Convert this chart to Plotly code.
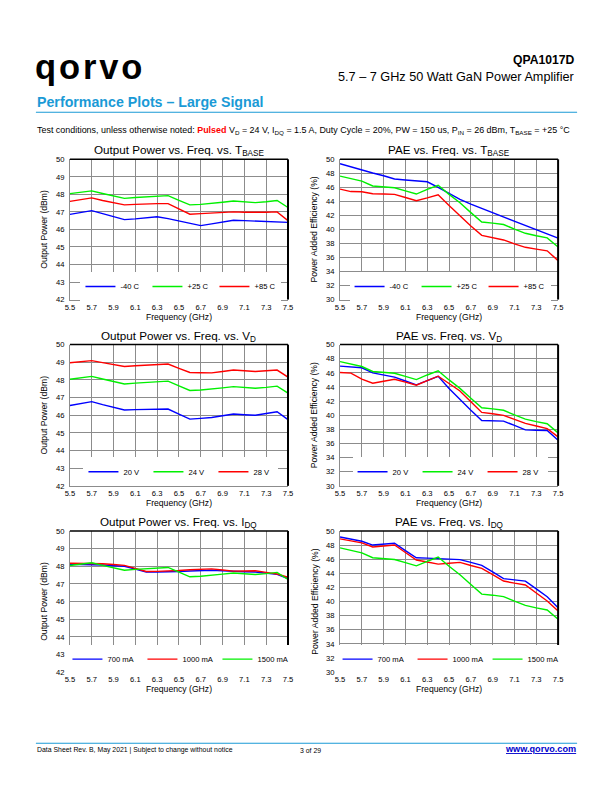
import plotly.graph_objects as go

W, H = 612, 792

FREQ = [5.5, 5.6, 5.7, 5.8, 5.9, 6.0, 6.1, 6.2, 6.3, 6.4, 6.5,
        6.6, 6.7, 6.8, 6.9, 7.0, 7.1, 7.2, 7.3, 7.4, 7.5]
X_TICKS = [5.5, 5.7, 5.9, 6.1, 6.3, 6.5, 6.7, 6.9, 7.1, 7.3, 7.5]
POUT_TICKS = [42, 43, 44, 45, 46, 47, 48, 49, 50]
PAE_TICKS = [30, 32, 34, 36, 38, 40, 42, 44, 46, 48, 50]

# Output power vs T_BASE (dBm)
pout_m40 = [46.86, 46.96, 47.07, 46.9, 46.72, 46.56, 46.6, 46.66, 46.72, 46.62, 46.48,
            46.34, 46.22, 46.32, 46.42, 46.52, 46.5, 46.48, 46.46, 46.44, 46.4]
pout_p25 = [48.04, 48.12, 48.2, 48.05, 47.9, 47.77, 47.82, 47.86, 47.9, 47.93, 47.66,
            47.4, 47.43, 47.47, 47.55, 47.62, 47.58, 47.53, 47.58, 47.65, 47.25]
pout_p85 = [47.6, 47.7, 47.8, 47.65, 47.52, 47.4, 47.43, 47.46, 47.47, 47.47, 47.17,
            46.87, 46.9, 46.93, 46.97, 47.0, 46.98, 46.96, 46.98, 47.0, 46.5]

# PAE vs T_BASE (%)
pae_m40 = [49.38, 48.9, 48.45, 48.05, 47.65, 47.2, 47.05, 46.95, 46.8, 46.0, 45.15,
           44.3, 43.6, 43.0, 42.4, 41.8, 41.2, 40.6, 40.0, 39.4, 38.75]
pae_p25 = [47.6, 47.25, 46.9, 46.2, 46.1, 45.95, 45.5, 45.05, 45.7, 46.3, 45.0,
           43.8, 42.4, 41.05, 40.9, 40.7, 40.05, 39.45, 39.1, 38.8, 37.5]
pae_p85 = [45.75, 45.4, 45.38, 45.1, 45.05, 45.0, 44.55, 44.1, 44.5, 44.95, 43.4,
           41.9, 40.5, 39.15, 38.85, 38.5, 37.95, 37.45, 37.2, 36.95, 35.55]

# Output power vs V_D (dBm)
pout_20v = [46.55, 46.66, 46.77, 46.6, 46.45, 46.3, 46.32, 46.34, 46.35, 46.35, 46.06,
            45.78, 45.82, 45.87, 45.97, 46.07, 46.03, 46.0, 46.1, 46.2, 45.75]
pout_24v = [48.04, 48.12, 48.2, 48.05, 47.9, 47.77, 47.82, 47.86, 47.9, 47.93, 47.66,
            47.4, 47.43, 47.47, 47.55, 47.62, 47.58, 47.53, 47.58, 47.65, 47.25]
pout_28v = [48.97, 49.05, 49.09, 48.98, 48.87, 48.76, 48.8, 48.84, 48.87, 48.9, 48.66,
            48.42, 48.41, 48.4, 48.48, 48.56, 48.52, 48.48, 48.52, 48.56, 48.16]

# PAE vs V_D (%)
pae_20v = [46.96, 46.85, 46.72, 46.0, 45.7, 45.4, 44.85, 44.3, 44.9, 45.5, 43.8,
           42.2, 40.7, 39.26, 39.22, 39.17, 38.55, 37.93, 37.88, 37.84, 36.46]
pae_24v = [47.6, 47.25, 46.9, 46.2, 46.1, 45.95, 45.5, 45.05, 45.7, 46.3, 45.0,
           43.8, 42.4, 41.05, 40.9, 40.7, 40.05, 39.45, 39.1, 38.8, 37.5]
pae_28v = [46.06, 45.96, 45.1, 44.54, 44.82, 45.1, 44.68, 44.25, 44.9, 45.53, 44.5,
           43.44, 41.9, 40.4, 40.2, 39.98, 39.4, 38.84, 38.47, 38.1, 36.93]

# Output power vs I_DQ (dBm)
pout_700 = [48.11, 48.11, 48.11, 48.07, 48.03, 48.0, 47.84, 47.67, 47.67, 47.67, 47.7,
            47.73, 47.75, 47.77, 47.74, 47.7, 47.69, 47.67, 47.61, 47.54, 47.3]
pout_1000 = [48.17, 48.17, 48.18, 48.14, 48.1, 48.05, 47.88, 47.7, 47.71, 47.72, 47.76,
             47.8, 47.83, 47.85, 47.79, 47.72, 47.73, 47.74, 47.65, 47.56, 47.37]
pout_1500 = [48.04, 48.12, 48.2, 48.05, 47.9, 47.77, 47.82, 47.86, 47.9, 47.93, 47.66,
             47.4, 47.43, 47.47, 47.55, 47.62, 47.58, 47.53, 47.58, 47.65, 47.25]

# PAE vs I_DQ (%)
pae_700 = [49.15, 48.85, 48.53, 48.0, 48.1, 48.25, 47.2, 46.2, 46.15, 46.08, 46.0,
           45.93, 45.55, 45.13, 44.2, 43.24, 43.07, 42.9, 41.8, 40.68, 39.13]
pae_1000 = [48.87, 48.6, 48.3, 47.73, 47.85, 48.0, 46.95, 45.88, 45.6, 45.3, 45.42,
            45.55, 45.1, 44.7, 43.8, 42.9, 42.6, 42.34, 41.2, 40.07, 38.65]
pae_1500 = [47.6, 47.25, 46.9, 46.2, 46.1, 45.95, 45.5, 45.05, 45.7, 46.3, 45.0,
            43.8, 42.4, 41.05, 40.9, 40.7, 40.05, 39.45, 39.1, 38.8, 37.5]

BLUE, GREEN, RED = "#0000ff", "#00f000", "#ff0000"
COL_TV = [BLUE, GREEN, RED]
COL_IDQ = [BLUE, RED, GREEN]
FONT = "Liberation Sans, Arial, sans-serif"

# page-pixel -> paper mapping (compensates the small border the viewer adds)
PAD = 5.2
SX = W / (W + 2 * PAD)
SY = H / (H + 2 * PAD)
FS = 1.0 / ((SX + SY) / 2)
DY = 1.2


def px(x):
    return (x / SX - PAD) / W


def py(y):
    return 1 - ((y + DY) / SY - PAD) / H


def fs(s):
    return round(s * FS, 2)


# panel boxes in page pixels: (left, right, top, bottom)
panels = [
    dict(box=(70, 288, 159, 299), kind="pout", title="Output Power vs. Freq. vs. T<sub>BASE</sub>",
         series=[pout_m40, pout_p25, pout_p85], names=["-40 C", "+25 C", "+85 C"],
         cols=COL_TV, leg=(181, 286), ew=22),
    dict(box=(340, 558, 159, 299), kind="pae", title="PAE vs. Freq. vs. T<sub>BASE</sub>",
         series=[pae_m40, pae_p25, pae_p85], names=["-40 C", "+25 C", "+85 C"],
         cols=COL_TV, leg=(450, 286), ew=22),
    dict(box=(70, 288, 344, 485), kind="pout", title="Output Power vs. Freq. vs. V<sub>D</sub>",
         series=[pout_20v, pout_24v, pout_28v], names=["20 V", "24 V", "28 V"],
         cols=COL_TV, leg=(181, 471), ew=20),
    dict(box=(340, 558, 344, 485), kind="pae", title="PAE vs. Freq. vs. V<sub>D</sub>",
         series=[pae_20v, pae_24v, pae_28v], names=["20 V", "24 V", "28 V"],
         cols=COL_TV, leg=(450, 471), ew=20),
    dict(box=(70, 288, 530, 671), kind="pout", title="Output Power vs. Freq. vs. I<sub>DQ</sub>",
         series=[pout_700, pout_1000, pout_1500], names=["700 mA", "1000 mA", "1500 mA"],
         cols=COL_IDQ, leg=(180, 658), ew=30),
    dict(box=(340, 558, 530, 671), kind="pae", title="PAE vs. Freq. vs. I<sub>DQ</sub>",
         series=[pae_700, pae_1000, pae_1500], names=["700 mA", "1000 mA", "1500 mA"],
         cols=COL_IDQ, leg=(450, 658), ew=30),
]

fig = go.Figure()
layout = dict(width=W, height=H, margin=dict(l=0, r=0, t=0, b=0),
              paper_bgcolor="white", plot_bgcolor="white", showlegend=True,
              font=dict(family=FONT, color="black"))
annotations = []
shapes = []

for i, p in enumerate(panels):
    n = i + 1
    sfx = "" if n == 1 else str(n)
    l, r, t, b = p["box"]
    legname = "legend" if n == 1 else f"legend{n}"
    for k, (vals, nm) in enumerate(zip(p["series"], p["names"])):
        fig.add_trace(go.Scatter(x=FREQ, y=vals, mode="lines", name=nm,
                                 line=dict(color=p["cols"][k], width=1.4),
                                 xaxis=f"x{sfx}", yaxis=f"y{sfx}", legend=legname))
    if p["kind"] == "pout":
        yr, yt, ytitle = [42, 50], POUT_TICKS, "Output Power (dBm)"
    else:
        yr, yt, ytitle = [30, 50], PAE_TICKS, "Power Added Efficiency (%)"
    layout[f"xaxis{sfx}"] = dict(domain=[px(l), px(r)], range=[5.5, 7.5], anchor=f"y{sfx}",
                                 tickvals=X_TICKS, ticktext=[f"{v:.1f}" for v in X_TICKS],
                                 showgrid=True, gridcolor="#8c8c8c", gridwidth=1,
                                 showline=True, linecolor="#8c8c8c", linewidth=1,
                                 zeroline=False, ticks="", tickfont=dict(size=fs(7.5), family=FONT),
                                 title=dict(text="Frequency (GHz)", font=dict(size=fs(8.5), family=FONT),
                                            standoff=2))
    layout[f"yaxis{sfx}"] = dict(domain=[py(b), py(t)], range=yr, anchor=f"x{sfx}",
                                 tickvals=yt, showgrid=True, gridcolor="#8c8c8c", gridwidth=1,
                                 showline=True, linecolor="#8c8c8c", linewidth=1,
                                 zeroline=False, ticks="", ticklabelstandoff=3,
                                 tickfont=dict(size=fs(7.5), family=FONT),
                                 title=dict(text=ytitle, font=dict(size=fs(8.5), family=FONT), standoff=6))
    # top & right black border
    shapes.append(dict(type="line", xref=f"x{sfx} domain", yref=f"y{sfx} domain",
                       x0=0, x1=1, y0=1, y1=1, line=dict(color="black", width=1.5)))
    shapes.append(dict(type="line", xref=f"x{sfx} domain", yref=f"y{sfx} domain",
                       x0=1, x1=1, y0=0, y1=1, line=dict(color="black", width=2)))
    annotations.append(dict(text=p["title"], x=px((l + r) / 2), y=py(t), xref="paper", yref="paper",
                            xanchor="center", yanchor="bottom", yshift=-1, showarrow=False,
                            font=dict(size=fs(11.5), family=FONT, color="black")))
    lx, ly = p["leg"]
    layout[legname] = dict(x=px(lx), y=py(ly), xanchor="center", yanchor="middle",
                           orientation="h", bgcolor="white", borderwidth=0,
                           font=dict(size=fs(7.5), family=FONT), itemwidth=30,
                           entrywidth=p["ew"], entrywidthmode="pixels",
                           tracegroupgap=0)

HS = "\u200a"
# page header / footer
annotations += [
    dict(text="<b>" + HS.join("qorvo") + "</b>", x=px(33), y=py(67), xanchor="left", yanchor="middle",
         font=dict(size=fs(34), family=FONT, color="black")),
    dict(text="<b>QPA1017D</b>", x=px(577), y=py(60), xanchor="right", yanchor="middle",
         font=dict(size=fs(12), family=FONT, color="black")),
    dict(text="5.7 – 7 GHz 50 Watt GaN Power Amplifier", x=px(577), y=py(77), xanchor="right",
         yanchor="middle", font=dict(size=fs(12.5), family=FONT, color="black")),
    dict(text="<b>Performance Plots – Large Signal</b>", x=px(35), y=py(102), xanchor="left",
         yanchor="middle", font=dict(size=fs(14), family=FONT, color="#1a9ad6")),
    dict(text="Test conditions, unless otherwise noted: <b><span style='color:#ff0000'>Pulsed</span></b> "
              "V<sub>D</sub> = 24 V, I<sub>DQ</sub> = 1.5 A, Duty Cycle = 20%, PW = 150 us, "
              "P<sub>IN</sub> = 26 dBm, T<sub>BASE</sub> = +25 °C",
         x=px(35), y=py(130), xanchor="left", yanchor="middle",
         font=dict(size=fs(8.8), family=FONT, color="black")),
    dict(text="Data Sheet Rev. B, May 2021 | Subject to change without notice", x=px(35), y=py(749),
         xanchor="left", yanchor="middle", font=dict(size=fs(6.8), family=FONT, color="black")),
    dict(text="3 of 29", x=px(310), y=py(749), xanchor="center", yanchor="middle",
         font=dict(size=fs(6.8), family=FONT, color="black")),
    dict(text="<b><u>www.qorvo.com</u></b>", x=px(578), y=py(748), xanchor="right", yanchor="middle",
         font=dict(size=fs(9), family=FONT, color="#0000cc")),
]
for a in annotations:
    a.setdefault("xref", "paper")
    a.setdefault("yref", "paper")
    a.setdefault("showarrow", False)

shapes += [
    dict(type="line", xref="paper", yref="paper", x0=px(36), x1=px(577), y0=py(112), y1=py(112),
         line=dict(color="#1a9ad6", width=1.2)),
    dict(type="line", xref="paper", yref="paper", x0=px(36), x1=px(577), y0=py(742), y1=py(742),
         line=dict(color="#1a9ad6", width=1.2)),
]

layout["annotations"] = annotations
layout["shapes"] = shapes
fig.update_layout(**layout)

POST = (
    "var de=document.documentElement, bd=document.body;"
    "de.style.margin='0';de.style.padding='0';de.style.overflow='hidden';"
    "bd.style.margin='0';bd.style.padding='0';bd.style.overflow='hidden';"
)
fig.write_html("out.html", config={"displayModeBar": False}, post_script=POST)
